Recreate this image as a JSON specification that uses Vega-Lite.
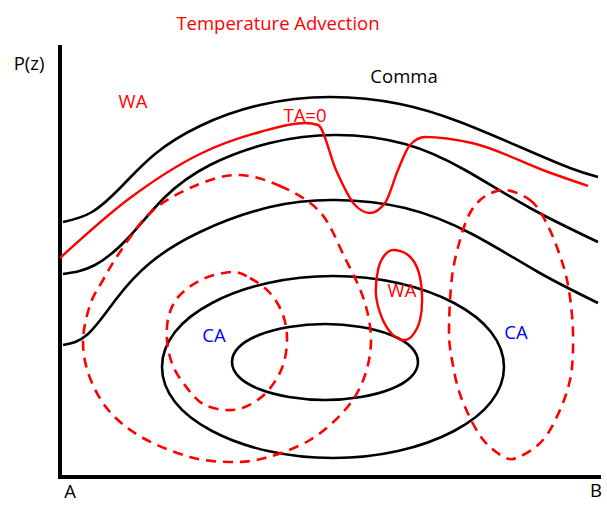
{
  "$schema": "https://vega.github.io/schema/vega-lite/v6.json",
  "width": 607,
  "height": 505,
  "autosize": {"type": "fit", "contains": "padding"},
  "padding": 0,
  "background": "white",
  "config": {"view": {"stroke": null}},
  "datasets": {
    "axes": [
      {"x": 60, "y": 45, "x2": 60, "y2": 478},
      {"x": 58, "y": 477, "x2": 601, "y2": 477}
    ],
    "open": [
      {"s": "c1", "x": 63, "y": 222}, {"s": "c1", "x": 92, "y": 212}, {"s": "c1", "x": 122, "y": 186}, {"s": "c1", "x": 155, "y": 154}, {"s": "c1", "x": 200, "y": 126}, {"s": "c1", "x": 260, "y": 105}, {"s": "c1", "x": 330, "y": 97}, {"s": "c1", "x": 400, "y": 104}, {"s": "c1", "x": 460, "y": 122}, {"s": "c1", "x": 520, "y": 147}, {"s": "c1", "x": 570, "y": 168}, {"s": "c1", "x": 598, "y": 177},
      {"s": "c2", "x": 63, "y": 274}, {"s": "c2", "x": 95, "y": 265}, {"s": "c2", "x": 130, "y": 236}, {"s": "c2", "x": 165, "y": 197}, {"s": "c2", "x": 210, "y": 165}, {"s": "c2", "x": 270, "y": 143}, {"s": "c2", "x": 336, "y": 135}, {"s": "c2", "x": 405, "y": 144}, {"s": "c2", "x": 465, "y": 170}, {"s": "c2", "x": 530, "y": 208}, {"s": "c2", "x": 598, "y": 242},
      {"s": "c3", "x": 63, "y": 345}, {"s": "c3", "x": 88, "y": 334}, {"s": "c3", "x": 117, "y": 298}, {"s": "c3", "x": 150, "y": 263}, {"s": "c3", "x": 200, "y": 232}, {"s": "c3", "x": 270, "y": 207}, {"s": "c3", "x": 336, "y": 200}, {"s": "c3", "x": 405, "y": 208}, {"s": "c3", "x": 472, "y": 234}, {"s": "c3", "x": 538, "y": 272}, {"s": "c3", "x": 598, "y": 303},
      {"s": "ta", "x": 60, "y": 258}, {"s": "ta", "x": 130, "y": 198}, {"s": "ta", "x": 200, "y": 154}, {"s": "ta", "x": 260, "y": 132}, {"s": "ta", "x": 305, "y": 123}, {"s": "ta", "x": 318, "y": 125}, {"s": "ta", "x": 336, "y": 170}, {"s": "ta", "x": 355, "y": 205}, {"s": "ta", "x": 370, "y": 213}, {"s": "ta", "x": 385, "y": 203}, {"s": "ta", "x": 398, "y": 170}, {"s": "ta", "x": 410, "y": 145}, {"s": "ta", "x": 425, "y": 137}, {"s": "ta", "x": 472, "y": 143}, {"s": "ta", "x": 548, "y": 172}, {"s": "ta", "x": 588, "y": 186}
    ],
    "closed": [
      {"s": "outer", "i": 0, "x": 504, "y": 367}, {"s": "outer", "i": 1, "x": 491, "y": 332}, {"s": "outer", "i": 2, "x": 454, "y": 303}, {"s": "outer", "i": 3, "x": 398, "y": 283}, {"s": "outer", "i": 4, "x": 333, "y": 276}, {"s": "outer", "i": 5, "x": 268, "y": 283}, {"s": "outer", "i": 6, "x": 212, "y": 303}, {"s": "outer", "i": 7, "x": 175, "y": 332}, {"s": "outer", "i": 8, "x": 162, "y": 367}, {"s": "outer", "i": 9, "x": 175, "y": 402}, {"s": "outer", "i": 10, "x": 212, "y": 431}, {"s": "outer", "i": 11, "x": 268, "y": 451}, {"s": "outer", "i": 12, "x": 333, "y": 458}, {"s": "outer", "i": 13, "x": 398, "y": 451}, {"s": "outer", "i": 14, "x": 454, "y": 431}, {"s": "outer", "i": 15, "x": 491, "y": 402},
      {"s": "inner", "i": 0, "x": 418, "y": 362}, {"s": "inner", "i": 1, "x": 411, "y": 347}, {"s": "inner", "i": 2, "x": 391, "y": 335}, {"s": "inner", "i": 3, "x": 361, "y": 327}, {"s": "inner", "i": 4, "x": 325, "y": 324}, {"s": "inner", "i": 5, "x": 289, "y": 327}, {"s": "inner", "i": 6, "x": 259, "y": 335}, {"s": "inner", "i": 7, "x": 239, "y": 347}, {"s": "inner", "i": 8, "x": 232, "y": 362}, {"s": "inner", "i": 9, "x": 239, "y": 377}, {"s": "inner", "i": 10, "x": 259, "y": 389}, {"s": "inner", "i": 11, "x": 289, "y": 397}, {"s": "inner", "i": 12, "x": 325, "y": 400}, {"s": "inner", "i": 13, "x": 361, "y": 397}, {"s": "inner", "i": 14, "x": 391, "y": 389}, {"s": "inner", "i": 15, "x": 411, "y": 377},
      {"s": "bigca", "i": 0, "x": 236, "y": 175}, {"s": "bigca", "i": 1, "x": 280, "y": 186}, {"s": "bigca", "i": 2, "x": 320, "y": 212}, {"s": "bigca", "i": 3, "x": 345, "y": 258}, {"s": "bigca", "i": 4, "x": 364, "y": 300}, {"s": "bigca", "i": 5, "x": 371, "y": 340}, {"s": "bigca", "i": 6, "x": 364, "y": 378}, {"s": "bigca", "i": 7, "x": 345, "y": 410}, {"s": "bigca", "i": 8, "x": 310, "y": 440}, {"s": "bigca", "i": 9, "x": 265, "y": 458}, {"s": "bigca", "i": 10, "x": 230, "y": 462}, {"s": "bigca", "i": 11, "x": 190, "y": 457}, {"s": "bigca", "i": 12, "x": 143, "y": 438}, {"s": "bigca", "i": 13, "x": 110, "y": 412}, {"s": "bigca", "i": 14, "x": 90, "y": 378}, {"s": "bigca", "i": 15, "x": 83, "y": 342}, {"s": "bigca", "i": 16, "x": 90, "y": 305}, {"s": "bigca", "i": 17, "x": 103, "y": 280}, {"s": "bigca", "i": 18, "x": 120, "y": 252}, {"s": "bigca", "i": 19, "x": 150, "y": 213}, {"s": "bigca", "i": 20, "x": 190, "y": 188},
      {"s": "smallca", "i": 0, "x": 232, "y": 272}, {"s": "smallca", "i": 1, "x": 250, "y": 278}, {"s": "smallca", "i": 2, "x": 270, "y": 293}, {"s": "smallca", "i": 3, "x": 283, "y": 315}, {"s": "smallca", "i": 4, "x": 287, "y": 340}, {"s": "smallca", "i": 5, "x": 282, "y": 368}, {"s": "smallca", "i": 6, "x": 266, "y": 393}, {"s": "smallca", "i": 7, "x": 245, "y": 407}, {"s": "smallca", "i": 8, "x": 225, "y": 410}, {"s": "smallca", "i": 9, "x": 203, "y": 404}, {"s": "smallca", "i": 10, "x": 187, "y": 388}, {"s": "smallca", "i": 11, "x": 173, "y": 366}, {"s": "smallca", "i": 12, "x": 167, "y": 340}, {"s": "smallca", "i": 13, "x": 169, "y": 315}, {"s": "smallca", "i": 14, "x": 180, "y": 295}, {"s": "smallca", "i": 15, "x": 203, "y": 279},
      {"s": "rightca", "i": 0, "x": 505, "y": 190}, {"s": "rightca", "i": 1, "x": 530, "y": 200}, {"s": "rightca", "i": 2, "x": 545, "y": 220}, {"s": "rightca", "i": 3, "x": 558, "y": 250}, {"s": "rightca", "i": 4, "x": 567, "y": 280}, {"s": "rightca", "i": 5, "x": 572, "y": 315}, {"s": "rightca", "i": 6, "x": 573, "y": 350}, {"s": "rightca", "i": 7, "x": 570, "y": 380}, {"s": "rightca", "i": 8, "x": 560, "y": 410}, {"s": "rightca", "i": 9, "x": 543, "y": 440}, {"s": "rightca", "i": 10, "x": 519, "y": 457}, {"s": "rightca", "i": 11, "x": 504, "y": 457}, {"s": "rightca", "i": 12, "x": 481, "y": 437}, {"s": "rightca", "i": 13, "x": 461, "y": 397}, {"s": "rightca", "i": 14, "x": 452, "y": 360}, {"s": "rightca", "i": 15, "x": 449, "y": 330}, {"s": "rightca", "i": 16, "x": 452, "y": 277}, {"s": "rightca", "i": 17, "x": 460, "y": 240}, {"s": "rightca", "i": 18, "x": 470, "y": 213}, {"s": "rightca", "i": 19, "x": 484, "y": 197},
      {"s": "wa", "i": 0, "x": 393, "y": 250}, {"s": "wa", "i": 1, "x": 408, "y": 255}, {"s": "wa", "i": 2, "x": 418, "y": 270}, {"s": "wa", "i": 3, "x": 422, "y": 295}, {"s": "wa", "i": 4, "x": 420, "y": 320}, {"s": "wa", "i": 5, "x": 412, "y": 336}, {"s": "wa", "i": 6, "x": 403, "y": 340}, {"s": "wa", "i": 7, "x": 392, "y": 334}, {"s": "wa", "i": 8, "x": 382, "y": 318}, {"s": "wa", "i": 9, "x": 376, "y": 295}, {"s": "wa", "i": 10, "x": 378, "y": 270}, {"s": "wa", "i": 11, "x": 384, "y": 256}
    ],
    "labels": [
      {"t": "Temperature Advection", "k": "red", "x": 278, "y": 24},
      {"t": "P(z)", "k": "black", "x": 29, "y": 64},
      {"t": "WA", "k": "red", "x": 133, "y": 102},
      {"t": "TA=0", "k": "red", "x": 305, "y": 116},
      {"t": "Comma", "k": "black", "x": 404, "y": 77},
      {"t": "WA", "k": "red", "x": 402, "y": 291},
      {"t": "CA", "k": "blue", "x": 214, "y": 336},
      {"t": "CA", "k": "blue", "x": 516, "y": 333},
      {"t": "A", "k": "black", "x": 70, "y": 492},
      {"t": "B", "k": "black", "x": 596, "y": 491}
    ]
  },
  "layer": [
    {
      "data": {"name": "axes"},
      "mark": {"type": "rule", "color": "black", "strokeWidth": 4},
      "encoding": {
        "x": {"field": "x", "type": "quantitative", "scale": {"domain": [0, 607], "nice": false, "zero": false}, "axis": null},
        "y": {"field": "y", "type": "quantitative", "scale": {"domain": [0, 505], "nice": false, "zero": false, "reverse": true}, "axis": null},
        "x2": {"field": "x2"},
        "y2": {"field": "y2"}
      }
    },
    {
      "data": {"name": "open"},
      "transform": [{"filter": "datum.s !== 'ta'"}],
      "mark": {"type": "line", "interpolate": "natural", "color": "black", "strokeWidth": 2.6},
      "encoding": {
        "x": {"field": "x", "type": "quantitative"},
        "y": {"field": "y", "type": "quantitative"},
        "detail": {"field": "s"}
      }
    },
    {
      "data": {"name": "open"},
      "transform": [{"filter": "datum.s === 'ta'"}],
      "mark": {"type": "line", "interpolate": "monotone", "color": "#ff0000", "strokeWidth": 2.4},
      "encoding": {
        "x": {"field": "x", "type": "quantitative"},
        "y": {"field": "y", "type": "quantitative"},
        "detail": {"field": "s"}
      }
    },
    {
      "data": {"name": "closed"},
      "transform": [{"filter": "datum.s === 'outer' || datum.s === 'inner'"}],
      "mark": {"type": "line", "interpolate": "cardinal-closed", "color": "black", "strokeWidth": 2.6},
      "encoding": {
        "x": {"field": "x", "type": "quantitative"},
        "y": {"field": "y", "type": "quantitative"},
        "order": {"field": "i", "type": "quantitative"},
        "detail": {"field": "s"}
      }
    },
    {
      "data": {"name": "closed"},
      "transform": [{"filter": "datum.s === 'bigca' || datum.s === 'smallca' || datum.s === 'rightca'"}],
      "mark": {"type": "line", "interpolate": "cardinal-closed", "color": "#ff0000", "strokeWidth": 2.6, "strokeDash": [10, 7]},
      "encoding": {
        "x": {"field": "x", "type": "quantitative"},
        "y": {"field": "y", "type": "quantitative"},
        "order": {"field": "i", "type": "quantitative"},
        "detail": {"field": "s"}
      }
    },
    {
      "data": {"name": "closed"},
      "transform": [{"filter": "datum.s === 'wa'"}],
      "mark": {"type": "line", "interpolate": "cardinal-closed", "color": "#ff0000", "strokeWidth": 2.4},
      "encoding": {
        "x": {"field": "x", "type": "quantitative"},
        "y": {"field": "y", "type": "quantitative"},
        "order": {"field": "i", "type": "quantitative"},
        "detail": {"field": "s"}
      }
    },
    {
      "data": {"name": "labels"},
      "mark": {"type": "text", "font": "Open Sans", "fontSize": 18.5, "align": "center", "baseline": "middle"},
      "encoding": {
        "x": {"field": "x", "type": "quantitative"},
        "y": {"field": "y", "type": "quantitative"},
        "text": {"field": "t"},
        "color": {"field": "k", "type": "nominal", "scale": {"domain": ["red", "black", "blue"], "range": ["#ff0000", "#000000", "#0000ff"]}, "legend": null}
      }
    }
  ]
}
